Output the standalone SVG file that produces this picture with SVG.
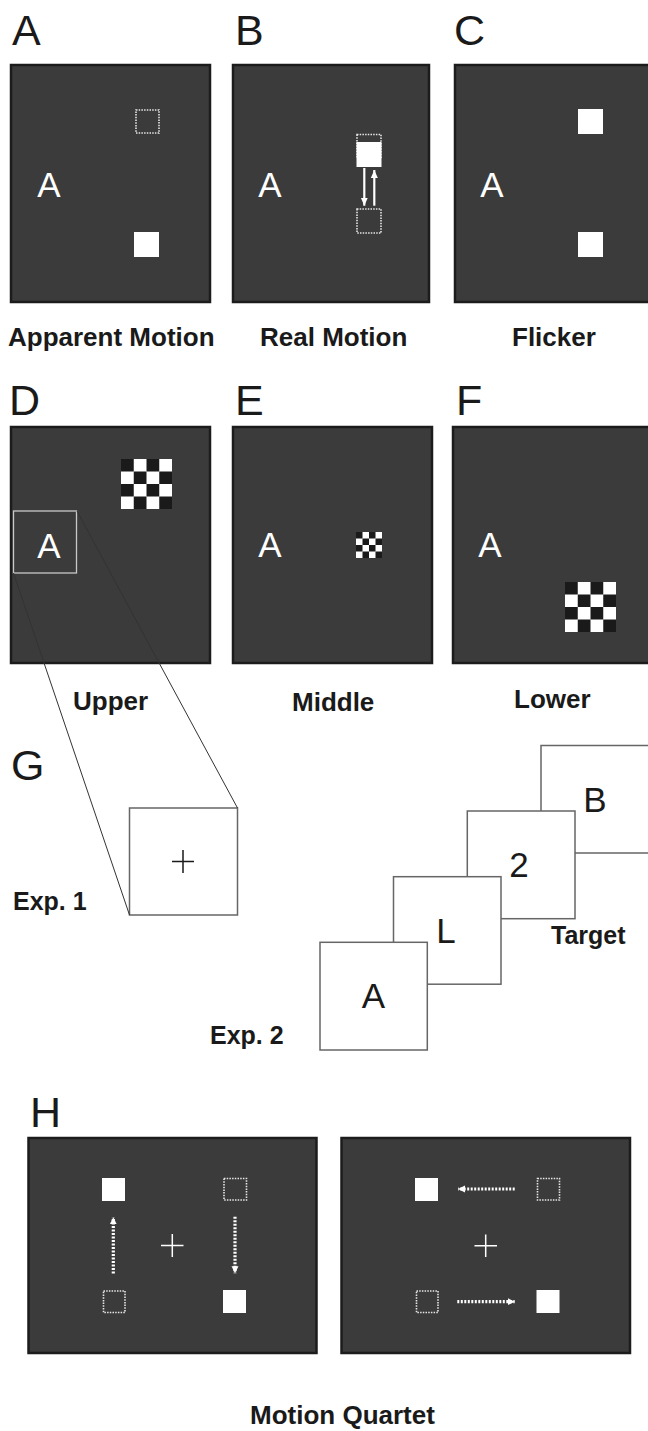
<svg xmlns="http://www.w3.org/2000/svg" xmlns:xlink="http://www.w3.org/1999/xlink" width="648" height="1431" viewBox="0 0 648 1431">
<style>
.panel{fill:#3b3b3b;stroke:#1c1c1c;stroke-width:2.5}
.plab{font-family:"Liberation Sans",Arial,sans-serif;font-size:43px;fill:#1a1a1a}
.cap{font-family:"Liberation Sans",Arial,sans-serif;font-size:26px;font-weight:bold;fill:#1a1a1a}
.inA{font-family:"Liberation Sans",Arial,sans-serif;font-size:35px;fill:#ffffff;text-anchor:middle}
.blk{font-family:"Liberation Sans",Arial,sans-serif;font-size:35px;fill:#1a1a1a;text-anchor:middle}
.solid{fill:#ffffff}
.dot{fill:none;stroke:#e6e6e6;stroke-width:1.6;stroke-dasharray:1.5 1.2}
.cross{stroke:#ffffff;stroke-width:1.5;fill:none}
.frame{fill:#ffffff;stroke:#666666;stroke-width:1.5}
.zoom{stroke:#333333;stroke-width:1;fill:none}
.rm{stroke:#ffffff;stroke-width:2.2;fill:none}
.da{stroke:#ffffff;stroke-width:3.2;stroke-dasharray:2 1.5;fill:none}
</style>
<defs>
<symbol id="checker" viewBox="0 0 4 4" preserveAspectRatio="none">
<rect x="0" y="0" width="4" height="4" fill="#ffffff"/>
<rect x="0" y="0" width="1" height="1" fill="#1a1a1a"/><rect x="2" y="0" width="1" height="1" fill="#1a1a1a"/>
<rect x="1" y="1" width="1" height="1" fill="#1a1a1a"/><rect x="3" y="1" width="1" height="1" fill="#1a1a1a"/>
<rect x="0" y="2" width="1" height="1" fill="#1a1a1a"/><rect x="2" y="2" width="1" height="1" fill="#1a1a1a"/>
<rect x="1" y="3" width="1" height="1" fill="#1a1a1a"/><rect x="3" y="3" width="1" height="1" fill="#1a1a1a"/>
</symbol>
<marker id="headS" markerUnits="userSpaceOnUse" markerWidth="8" markerHeight="8" refX="8" refY="4" orient="auto">
<path d="M0,0.5 L8,4 L0,7.5 z" fill="#ffffff"/>
</marker>
<marker id="headD" markerUnits="userSpaceOnUse" markerWidth="8" markerHeight="8" refX="7" refY="4" orient="auto">
<path d="M0,0.5 L7,4 L0,7.5 z" fill="#ffffff"/>
</marker>
</defs>

<g id="panelA">
<text class="plab" x="12" y="45">A</text>
<rect class="panel" x="11" y="65" width="199" height="237"/>
<text class="inA" x="49" y="197">A</text>
<rect class="dot" x="136" y="110" width="23" height="23"/>
<rect class="solid" x="134" y="232" width="25" height="25"/>
<text class="cap" x="8" y="346">Apparent Motion</text>
</g>

<g id="panelB">
<text class="plab" x="235" y="45">B</text>
<rect class="panel" x="233" y="65" width="196" height="237"/>
<text class="inA" x="270" y="197">A</text>
<rect class="dot" x="357" y="134.5" width="24" height="24"/>
<rect class="solid" x="356.5" y="142" width="25" height="25"/>
<rect class="dot" x="357" y="209" width="24" height="24"/>
<text class="cap" x="260" y="346">Real Motion</text>
</g>

<g id="panelC">
<text class="plab" x="454" y="45">C</text>
<rect class="panel" x="455" y="65" width="198" height="237"/>
<text class="inA" x="492" y="197">A</text>
<rect class="solid" x="578" y="109" width="25" height="25"/>
<rect class="solid" x="578" y="232" width="25" height="25"/>
<text class="cap" x="512" y="346">Flicker</text>
</g>

<g id="panelD">
<text class="plab" x="9" y="415">D</text>
<rect class="panel" x="11" y="427" width="199" height="236"/>
<use xlink:href="#checker" href="#checker" x="121" y="459" width="51" height="50"/>
<rect x="13.5" y="511" width="63" height="62" fill="none" stroke="#c8c8c8" stroke-width="1.3"/>
<text class="inA" x="49" y="558">A</text>
<text class="cap" x="73" y="710">Upper</text>
</g>

<g id="panelE">
<text class="plab" x="235" y="415">E</text>
<rect class="panel" x="233" y="427" width="199" height="236"/>
<text class="inA" x="270" y="557">A</text>
<use xlink:href="#checker" href="#checker" x="356" y="532" width="26" height="26"/>
<text class="cap" x="292" y="711">Middle</text>
</g>

<g id="panelF">
<text class="plab" x="456" y="415">F</text>
<rect class="panel" x="453" y="427" width="200" height="236"/>
<text class="inA" x="490" y="557">A</text>
<use xlink:href="#checker" href="#checker" x="565" y="582" width="51" height="50"/>
<text class="cap" x="514" y="708">Lower</text>
</g>

<g id="panelG">
<text class="plab" x="11" y="780">G</text>
<rect class="frame" x="129.5" y="808" width="108" height="107"/>
<path d="M172,861.5 H194 M183,850 V873" stroke="#1a1a1a" stroke-width="1.5" fill="none"/>
<text class="cap" x="13" y="910" style="font-size:25px">Exp. 1</text>
<g id="stackB"><rect class="frame" x="541" y="745.5" width="110" height="107.5"/><text class="blk" x="595" y="811.5">B</text></g>
<g id="stack2"><rect class="frame" x="467.3" y="811" width="107.7" height="107.7"/><text class="blk" x="519" y="877.3">2</text></g>
<g id="stackL"><rect class="frame" x="393.5" y="876.7" width="107.5" height="107.5"/><text class="blk" x="446" y="942.7">L</text></g>
<g id="stackA"><rect class="frame" x="320" y="942.3" width="107.3" height="107.7"/><text class="blk" x="373.5" y="1008.3">A</text></g>
<text class="cap" x="551" y="944" style="font-size:25px">Target</text>
<text class="cap" x="210" y="1044" style="font-size:25px">Exp. 2</text>
</g>

<g id="panelH1">
<text class="plab" x="30" y="1127">H</text>
<rect class="panel" x="28.5" y="1138" width="288" height="215"/>
<rect class="solid" x="102" y="1178" width="23" height="23"/>
<rect class="dot" x="224" y="1178.5" width="22.5" height="21.5"/>
<rect class="dot" x="103.5" y="1291" width="21.5" height="21.5"/>
<rect class="solid" x="223" y="1290" width="23" height="23"/>
<path class="cross" d="M161,1245.5 H183.5 M172.3,1234 V1257"/>
</g>

<g id="panelH2">
<rect class="panel" x="341.5" y="1138" width="288.5" height="215"/>
<rect class="solid" x="415" y="1178" width="23" height="23"/>
<rect class="dot" x="537.5" y="1178.5" width="22" height="21.5"/>
<rect class="dot" x="416.5" y="1291" width="21.5" height="21.5"/>
<rect class="solid" x="536.5" y="1290" width="23" height="23"/>
<path class="cross" d="M474.5,1245.7 H497 M485.7,1234.5 V1257"/>
<text class="cap" x="250" y="1424">Motion Quartet</text>
</g>

<g id="connectors">
<line class="zoom" x1="77" y1="511" x2="237.5" y2="808"/>
<line class="zoom" x1="13.5" y1="573" x2="129.5" y2="915"/>
<line class="rm" x1="364.3" y1="168" x2="364.3" y2="205.7" marker-end="url(#headS)"/>
<line class="rm" x1="374.3" y1="205.7" x2="374.3" y2="170" marker-end="url(#headS)"/>
<line class="da" x1="113.3" y1="1273.5" x2="113.3" y2="1217.3" marker-end="url(#headD)"/>
<line class="da" x1="235" y1="1216.7" x2="235" y2="1273.3" marker-end="url(#headD)"/>
<line class="da" x1="514.7" y1="1189" x2="458" y2="1189" marker-end="url(#headD)"/>
<line class="da" x1="457.3" y1="1301.7" x2="514.7" y2="1301.7" marker-end="url(#headD)"/>
</g>
</svg>
